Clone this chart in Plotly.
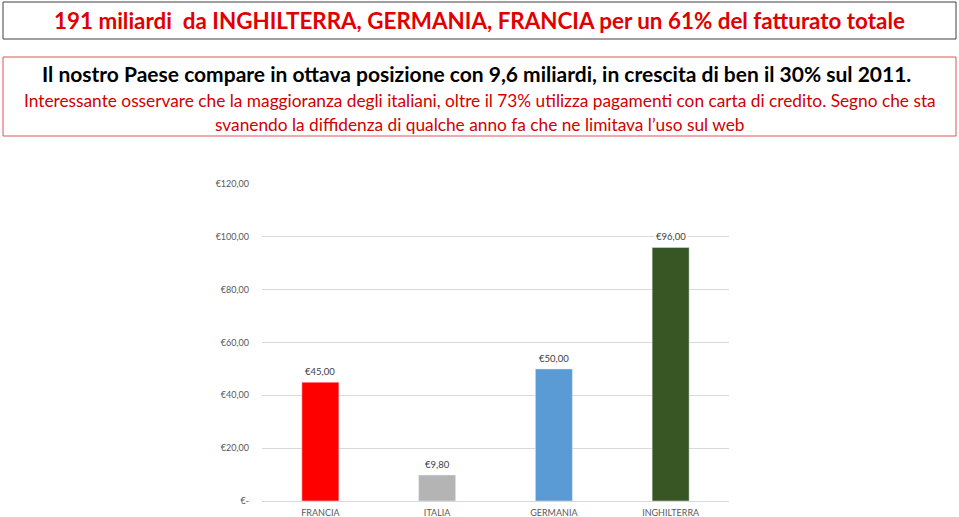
import plotly.graph_objects as go

categories = ["FRANCIA", "ITALIA", "GERMANIA", "INGHILTERRA"]
values = [45.00, 9.80, 50.00, 96.00]
colors = ["#FF0000", "#B4B4B4", "#5B9BD5", "#375623"]
tick_vals = [0, 20, 40, 60, 80, 100, 120]
tick_text = ["€-", "€20,00", "€40,00", "€60,00", "€80,00", "€100,00", "€120,00"]

def eur(v):
    return "€" + f"{v:.2f}".replace(".", ",")

W, H = 959, 517
L, R, T, B = 262, 230, 184, 16
PW, PH = W - L - R, H - T - B

def px_x(x):
    return (x - L) / PW

def px_y(y):
    return (H - B - y) / PH

fig = go.Figure(go.Bar(
    x=categories, y=values, marker_color=colors, width=0.317,
    hoverinfo="x+y",
))

font_main = "Lato, Open Sans, sans-serif"

shapes = [
    dict(type="rect", xref="paper", yref="paper", x0=px_x(3), x1=px_x(956), y0=px_y(2), y1=px_y(39),
         line=dict(color="#404040", width=1), fillcolor="rgba(0,0,0,0)", layer="below"),
    dict(type="rect", xref="paper", yref="paper", x0=px_x(3), x1=px_x(956), y0=px_y(57), y1=px_y(136),
         line=dict(color="#E05555", width=1), fillcolor="rgba(0,0,0,0)", layer="below"),
]

annotations = [
    dict(text="<b>191 miliardi  da INGHILTERRA, GERMANIA, FRANCIA per un 61% del fatturato totale</b>",
         x=px_x(479), y=px_y(20), xref="paper", yref="paper", showarrow=False,
         font=dict(family=font_main, size=22.4, color="#E00000"), yanchor="middle"),
    dict(text="<b>Il nostro Paese compare in ottava posizione con 9,6 miliardi, in crescita di ben il 30% sul 2011.</b>",
         x=px_x(476), y=px_y(74), xref="paper", yref="paper", showarrow=False,
         font=dict(family=font_main, size=21, color="#000000"), yanchor="middle"),
    dict(text="Interessante osservare che la maggioranza degli italiani, oltre il 73% utilizza pagamenti con carta di credito. Segno che sta",
         x=px_x(479.5), y=px_y(100), xref="paper", yref="paper", showarrow=False,
         font=dict(family=font_main, size=17.3, color="#D00000"), yanchor="middle"),
    dict(text="svanendo la diffidenza di qualche anno fa che ne limitava l’uso sul web",
         x=px_x(479.5), y=px_y(124), xref="paper", yref="paper", showarrow=False,
         font=dict(family=font_main, size=17.3, color="#D00000"), yanchor="middle"),
]

for c, v in zip(categories, values):
    annotations.append(dict(
        text=eur(v), x=c, y=v, xref="x", yref="y", showarrow=False,
        yanchor="bottom", yshift=3, bgcolor="white", borderpad=1,
        font=dict(family=font_main, size=9.5, color="#404040"),
    ))

fig.update_layout(
    width=W, height=H, margin=dict(l=L, r=R, t=T, b=B, autoexpand=False),
    paper_bgcolor="white", plot_bgcolor="white", showlegend=False,
    shapes=shapes, annotations=annotations,
    font=dict(family=font_main, color="#595959", size=9),
)
fig.update_yaxes(range=[0, 120], tickvals=tick_vals, ticktext=tick_text,
                 showgrid=True, gridcolor="#D9D9D9", gridwidth=1, zeroline=False,
                 showline=False, ticklabelstandoff=12, automargin=False,
                 tickfont=dict(family=font_main, size=9, color="#595959"))
fig.update_xaxes(showline=True, linecolor="#D9D9D9", automargin=False,
                 tickfont=dict(family=font_main, size=9, color="#595959"),
                 ticks="", ticklabelstandoff=3)

fig.write_html("out.html", config={"displayModeBar": False},
               post_script="document.body.style.margin='0px';")
